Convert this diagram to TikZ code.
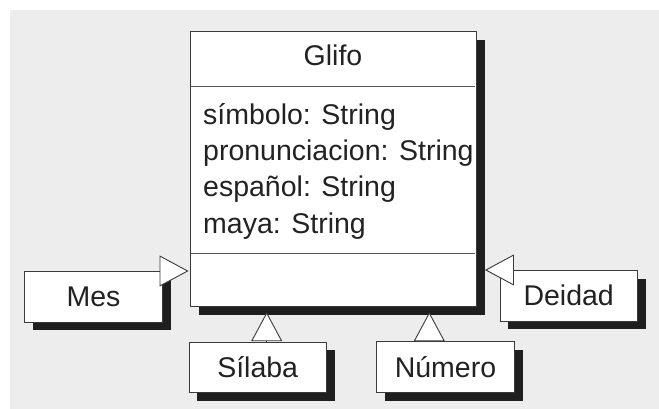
\documentclass[tikz,border=0pt]{standalone}
\usepackage{fontspec}
\setmainfont{Liberation Sans}
\usetikzlibrary{arrows.meta,shadows}

\definecolor{bggray}{HTML}{EDEDED}
\definecolor{ink}{HTML}{222222}
\definecolor{edge}{HTML}{3A3A3A}

\begin{document}
\begin{tikzpicture}[x=1pt,y=-1pt,font=\fontsize{28.5}{36.3}\selectfont,text=ink]
    \tikzstyle{classbox}=[rectangle,draw=edge,line width=0.9pt,fill=white,inner sep=0pt,
        drop shadow={shadow xshift=8.5pt,shadow yshift=-8.5pt,fill=black!88,opacity=1}]
    \tikzstyle{subclass}=[classbox,minimum width=137.5pt,minimum height=50.5pt,text height=20.5pt,text depth=0pt]
    \tikzstyle{divider}=[draw=black!65,line width=1.3pt]
    \tikzstyle{gen}=[draw=edge,line width=0.9pt,-{Triangle[fill=white,length=29pt,width=31pt]}]

    \useasboundingbox (0,0) rectangle (659,409);
    \fill[bggray] (10,10) rectangle (659,409);

    \node[classbox,minimum width=286pt,minimum height=274.3pt] (glifo) at (333,168.9) {};
    \node[anchor=base] (glifo-name) at (333,65.7) {Glifo};

    \coordinate (div-1) at (0,86.7);
    \coordinate (div-2) at (0,253.3);
    \foreach \d in {1,2}
        \draw[divider] ([xshift=1pt]glifo.west |- div-\d) -- ([xshift=-1pt]glifo.east |- div-\d);

    \foreach \attr [count=\i] in {símbolo, pronunciacion, español, maya}
        \node[anchor=base west,inner sep=0pt] (attr-\i) at (203,{88+36.3*\i}) {\attr: String};

    \foreach \name/\txt/\x/\y in {mes/Mes/93.5/296.7, deidad/Deidad/568.7/295.7,
                                 silaba/Sílaba/257.7/367.2, numero/Número/445.5/367}
        \node[subclass] (C-\name) at (\x,\y) {\txt};

    \draw[gen] (C-mes.north east) -- ([xshift=-1pt]glifo.west |- C-mes.north east);
    \draw[gen] ([xshift=13pt]C-deidad.north west) -- ([xshift=8.5pt]glifo.east |- C-deidad.north west);
    \foreach \from/\dx in {silaba/9, numero/-16.2}
        \draw[gen] ([xshift=\dx pt]C-\from.north) -- ([xshift=\dx pt,yshift=-5.7pt]C-\from.north |- glifo.south);
\end{tikzpicture}
\end{document}
